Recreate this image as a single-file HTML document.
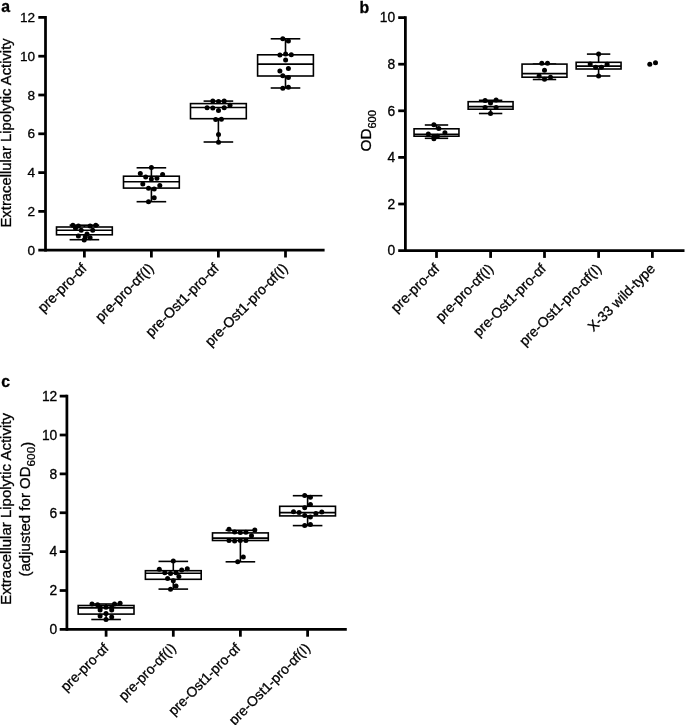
<!DOCTYPE html>
<html lang="en">
<head>
<meta charset="utf-8">
<title>Figure: extracellular lipolytic activity and OD600 box plots</title>
<style>
html,body{margin:0;padding:0;background:#fff;}
body{width:685px;height:725px;overflow:hidden;}
svg{display:block;}
svg text{font-family:"Liberation Sans", sans-serif;fill:#000;stroke:#000;stroke-width:0.3px;}
</style>
</head>
<body>
<svg width="685" height="725" viewBox="0 0 685 725">
<rect x="0" y="0" width="685" height="725" fill="#fff"/>
<g id="panel-a">
<line x1="45.5" y1="16.02" x2="45.5" y2="251.57" stroke="#000" stroke-width="2.75"/>
<line x1="38.30" y1="250.2" x2="324.6" y2="250.2" stroke="#000" stroke-width="2.75"/>
<text x="35.00" y="254.70" font-size="13.6" text-anchor="end">0</text>
<line x1="38.30" y1="211.40" x2="45.5" y2="211.40" stroke="#000" stroke-width="2.75"/>
<text x="35.00" y="215.90" font-size="13.6" text-anchor="end">2</text>
<line x1="38.30" y1="172.60" x2="45.5" y2="172.60" stroke="#000" stroke-width="2.75"/>
<text x="35.00" y="177.10" font-size="13.6" text-anchor="end">4</text>
<line x1="38.30" y1="133.80" x2="45.5" y2="133.80" stroke="#000" stroke-width="2.75"/>
<text x="35.00" y="138.30" font-size="13.6" text-anchor="end">6</text>
<line x1="38.30" y1="95.00" x2="45.5" y2="95.00" stroke="#000" stroke-width="2.75"/>
<text x="35.00" y="99.50" font-size="13.6" text-anchor="end">8</text>
<line x1="38.30" y1="56.20" x2="45.5" y2="56.20" stroke="#000" stroke-width="2.75"/>
<text x="35.00" y="60.70" font-size="13.6" text-anchor="end">10</text>
<line x1="38.30" y1="17.40" x2="45.5" y2="17.40" stroke="#000" stroke-width="2.75"/>
<text x="35.00" y="21.90" font-size="13.6" text-anchor="end">12</text>
<line x1="84.4" y1="250.2" x2="84.4" y2="257.50" stroke="#000" stroke-width="2.75"/>
<text transform="translate(87.60,269.20) rotate(-45)" font-size="14.15" text-anchor="end">pre-pro-αf</text>
<line x1="151.4" y1="250.2" x2="151.4" y2="257.50" stroke="#000" stroke-width="2.75"/>
<text transform="translate(154.60,269.20) rotate(-45)" font-size="14.15" text-anchor="end">pre-pro-αf(I)</text>
<line x1="218.4" y1="250.2" x2="218.4" y2="257.50" stroke="#000" stroke-width="2.75"/>
<text transform="translate(219.80,269.20) rotate(-45)" font-size="14.15" text-anchor="end">pre-Ost1-pro-αf</text>
<line x1="285.5" y1="250.2" x2="285.5" y2="257.50" stroke="#000" stroke-width="2.75"/>
<text transform="translate(288.70,269.20) rotate(-45)" font-size="14.15" text-anchor="end">pre-Ost1-pro-αf(I)</text>
<g stroke="#000" stroke-width="1.6" fill="none">
<line x1="84.4" y1="225.2" x2="84.4" y2="227.0"/>
<line x1="84.4" y1="234.8" x2="84.4" y2="239.7"/>
<line x1="69.60" y1="225.2" x2="99.20" y2="225.2"/>
<line x1="69.60" y1="239.7" x2="99.20" y2="239.7"/>
<rect x="56.50" y="227.0" width="55.8" height="7.80" fill="#fff"/>
<line x1="56.50" y1="230.2" x2="112.30" y2="230.2"/>
</g>
<g stroke="#000" stroke-width="1.6" fill="none">
<line x1="151.4" y1="167.8" x2="151.4" y2="176.2"/>
<line x1="151.4" y1="188.1" x2="151.4" y2="201.7"/>
<line x1="136.60" y1="167.8" x2="166.20" y2="167.8"/>
<line x1="136.60" y1="201.7" x2="166.20" y2="201.7"/>
<rect x="123.50" y="176.2" width="55.8" height="11.90" fill="#fff"/>
<line x1="123.50" y1="181.8" x2="179.30" y2="181.8"/>
</g>
<g stroke="#000" stroke-width="1.6" fill="none">
<line x1="218.4" y1="101.1" x2="218.4" y2="103.6"/>
<line x1="218.4" y1="118.7" x2="218.4" y2="142.0"/>
<line x1="203.60" y1="101.1" x2="233.20" y2="101.1"/>
<line x1="203.60" y1="142.0" x2="233.20" y2="142.0"/>
<rect x="190.50" y="103.6" width="55.8" height="15.10" fill="#fff"/>
<line x1="190.50" y1="107.5" x2="246.30" y2="107.5"/>
</g>
<g stroke="#000" stroke-width="1.6" fill="none">
<line x1="285.5" y1="38.8" x2="285.5" y2="54.8"/>
<line x1="285.5" y1="76.0" x2="285.5" y2="88.0"/>
<line x1="270.70" y1="38.8" x2="300.30" y2="38.8"/>
<line x1="270.70" y1="88.0" x2="300.30" y2="88.0"/>
<rect x="257.60" y="54.8" width="55.8" height="21.20" fill="#fff"/>
<line x1="257.60" y1="64.1" x2="313.40" y2="64.1"/>
</g>
<circle cx="72.9" cy="225.2" r="2.5" fill="#000"/>
<circle cx="78.4" cy="225.9" r="2.5" fill="#000"/>
<circle cx="90.1" cy="225.9" r="2.5" fill="#000"/>
<circle cx="95.8" cy="225.2" r="2.5" fill="#000"/>
<circle cx="75.5" cy="228.3" r="2.5" fill="#000"/>
<circle cx="81.2" cy="230.3" r="2.5" fill="#000"/>
<circle cx="92.7" cy="230.3" r="2.5" fill="#000"/>
<circle cx="87" cy="233.9" r="2.5" fill="#000"/>
<circle cx="78.4" cy="235.9" r="2.5" fill="#000"/>
<circle cx="85.3" cy="237" r="2.5" fill="#000"/>
<circle cx="90.1" cy="237.7" r="2.5" fill="#000"/>
<circle cx="84.2" cy="240" r="2.5" fill="#000"/>
<circle cx="151.4" cy="167.4" r="2.5" fill="#000"/>
<circle cx="140.3" cy="173.6" r="2.5" fill="#000"/>
<circle cx="162.6" cy="174.6" r="2.5" fill="#000"/>
<circle cx="145.7" cy="176.9" r="2.5" fill="#000"/>
<circle cx="156.9" cy="178.2" r="2.5" fill="#000"/>
<circle cx="151.4" cy="179.1" r="2.5" fill="#000"/>
<circle cx="142.8" cy="184" r="2.5" fill="#000"/>
<circle cx="159.8" cy="185.5" r="2.5" fill="#000"/>
<circle cx="148.5" cy="188.3" r="2.5" fill="#000"/>
<circle cx="154.2" cy="189" r="2.5" fill="#000"/>
<circle cx="154.2" cy="197.8" r="2.5" fill="#000"/>
<circle cx="148.5" cy="201.7" r="2.5" fill="#000"/>
<circle cx="212.8" cy="101.1" r="2.5" fill="#000"/>
<circle cx="218.5" cy="101.6" r="2.5" fill="#000"/>
<circle cx="224.2" cy="101.1" r="2.5" fill="#000"/>
<circle cx="230" cy="105.2" r="2.5" fill="#000"/>
<circle cx="207.1" cy="107.8" r="2.5" fill="#000"/>
<circle cx="212.8" cy="108.1" r="2.5" fill="#000"/>
<circle cx="224.2" cy="107.8" r="2.5" fill="#000"/>
<circle cx="218.5" cy="110.5" r="2.5" fill="#000"/>
<circle cx="215.7" cy="119.5" r="2.5" fill="#000"/>
<circle cx="221.4" cy="119.3" r="2.5" fill="#000"/>
<circle cx="218.5" cy="134.6" r="2.5" fill="#000"/>
<circle cx="218.5" cy="142.2" r="2.5" fill="#000"/>
<circle cx="282.8" cy="38.7" r="2.5" fill="#000"/>
<circle cx="288.4" cy="41" r="2.5" fill="#000"/>
<circle cx="279.9" cy="55.1" r="2.5" fill="#000"/>
<circle cx="285.6" cy="54" r="2.5" fill="#000"/>
<circle cx="291.3" cy="54.8" r="2.5" fill="#000"/>
<circle cx="285.6" cy="60.1" r="2.5" fill="#000"/>
<circle cx="288.4" cy="68.4" r="2.5" fill="#000"/>
<circle cx="279.9" cy="71.1" r="2.5" fill="#000"/>
<circle cx="282.8" cy="75.7" r="2.5" fill="#000"/>
<circle cx="288.4" cy="77.4" r="2.5" fill="#000"/>
<circle cx="282.8" cy="88.2" r="2.5" fill="#000"/>
<circle cx="288.4" cy="87.2" r="2.5" fill="#000"/>
</g>
<g id="panel-b">
<line x1="405.4" y1="16.23" x2="405.4" y2="251.97" stroke="#000" stroke-width="2.75"/>
<line x1="398.20" y1="250.6" x2="684.5" y2="250.6" stroke="#000" stroke-width="2.75"/>
<text x="395.10" y="255.40" font-size="13.8" text-anchor="end">0</text>
<line x1="398.20" y1="204.00" x2="405.4" y2="204.00" stroke="#000" stroke-width="2.75"/>
<text x="395.10" y="208.80" font-size="13.8" text-anchor="end">2</text>
<line x1="398.20" y1="157.40" x2="405.4" y2="157.40" stroke="#000" stroke-width="2.75"/>
<text x="395.10" y="162.20" font-size="13.8" text-anchor="end">4</text>
<line x1="398.20" y1="110.80" x2="405.4" y2="110.80" stroke="#000" stroke-width="2.75"/>
<text x="395.10" y="115.60" font-size="13.8" text-anchor="end">6</text>
<line x1="398.20" y1="64.20" x2="405.4" y2="64.20" stroke="#000" stroke-width="2.75"/>
<text x="395.10" y="69.00" font-size="13.8" text-anchor="end">8</text>
<line x1="398.20" y1="17.60" x2="405.4" y2="17.60" stroke="#000" stroke-width="2.75"/>
<text x="395.10" y="22.40" font-size="13.8" text-anchor="end">10</text>
<line x1="436.5" y1="250.6" x2="436.5" y2="257.90" stroke="#000" stroke-width="2.75"/>
<text transform="translate(440.20,269.60) rotate(-45)" font-size="14.0" text-anchor="end">pre-pro-αf</text>
<line x1="490.6" y1="250.6" x2="490.6" y2="257.90" stroke="#000" stroke-width="2.75"/>
<text transform="translate(494.30,269.60) rotate(-45)" font-size="14.0" text-anchor="end">pre-pro-αf(I)</text>
<line x1="544.5" y1="250.6" x2="544.5" y2="257.90" stroke="#000" stroke-width="2.75"/>
<text transform="translate(546.70,269.60) rotate(-45)" font-size="14.0" text-anchor="end">pre-Ost1-pro-αf</text>
<line x1="598.6" y1="250.6" x2="598.6" y2="257.90" stroke="#000" stroke-width="2.75"/>
<text transform="translate(602.30,269.60) rotate(-45)" font-size="14.0" text-anchor="end">pre-Ost1-pro-αf(I)</text>
<line x1="652.4" y1="250.6" x2="652.4" y2="257.90" stroke="#000" stroke-width="2.75"/>
<text transform="translate(656.10,269.60) rotate(-45)" font-size="14.0" text-anchor="end">X-33 wild-type</text>
<g stroke="#000" stroke-width="1.6" fill="none">
<line x1="436.5" y1="125.0" x2="436.5" y2="128.8"/>
<line x1="436.5" y1="136.2" x2="436.5" y2="138.3"/>
<line x1="424.80" y1="125.0" x2="448.20" y2="125.0"/>
<line x1="424.80" y1="138.3" x2="448.20" y2="138.3"/>
<rect x="414.05" y="128.8" width="44.9" height="7.40" fill="#fff"/>
<line x1="414.05" y1="134.2" x2="458.95" y2="134.2"/>
</g>
<g stroke="#000" stroke-width="1.6" fill="none">
<line x1="490.6" y1="100.3" x2="490.6" y2="101.7"/>
<line x1="490.6" y1="109.2" x2="490.6" y2="113.5"/>
<line x1="478.90" y1="100.3" x2="502.30" y2="100.3"/>
<line x1="478.90" y1="113.5" x2="502.30" y2="113.5"/>
<rect x="468.15" y="101.7" width="44.9" height="7.50" fill="#fff"/>
<line x1="468.15" y1="106.6" x2="513.05" y2="106.6"/>
</g>
<g stroke="#000" stroke-width="1.6" fill="none">
<line x1="544.5" y1="64.1" x2="544.5" y2="64.1"/>
<line x1="544.5" y1="77.2" x2="544.5" y2="79.5"/>
<line x1="532.80" y1="64.1" x2="556.20" y2="64.1"/>
<line x1="532.80" y1="79.5" x2="556.20" y2="79.5"/>
<rect x="522.05" y="64.1" width="44.9" height="13.10" fill="#fff"/>
<line x1="522.05" y1="73.6" x2="566.95" y2="73.6"/>
</g>
<g stroke="#000" stroke-width="1.6" fill="none">
<line x1="598.6" y1="54.1" x2="598.6" y2="62.3"/>
<line x1="598.6" y1="69.0" x2="598.6" y2="76.0"/>
<line x1="586.90" y1="54.1" x2="610.30" y2="54.1"/>
<line x1="586.90" y1="76.0" x2="610.30" y2="76.0"/>
<rect x="576.15" y="62.3" width="44.9" height="6.70" fill="#fff"/>
<line x1="576.15" y1="66.1" x2="621.05" y2="66.1"/>
</g>
<circle cx="433.9" cy="124.8" r="2.5" fill="#000"/>
<circle cx="438.8" cy="128.6" r="2.5" fill="#000"/>
<circle cx="428.3" cy="133.9" r="2.5" fill="#000"/>
<circle cx="444.9" cy="132.7" r="2.5" fill="#000"/>
<circle cx="433.9" cy="136.7" r="2.5" fill="#000"/>
<circle cx="437.4" cy="136.2" r="2.5" fill="#000"/>
<circle cx="433.9" cy="138.8" r="2.5" fill="#000"/>
<circle cx="485.1" cy="100.6" r="2.5" fill="#000"/>
<circle cx="496.1" cy="99.9" r="2.5" fill="#000"/>
<circle cx="490.5" cy="102.9" r="2.5" fill="#000"/>
<circle cx="485.1" cy="107.6" r="2.5" fill="#000"/>
<circle cx="496.1" cy="107.6" r="2.5" fill="#000"/>
<circle cx="490.5" cy="113.4" r="2.5" fill="#000"/>
<circle cx="541.8" cy="63.3" r="2.5" fill="#000"/>
<circle cx="547.5" cy="63.3" r="2.5" fill="#000"/>
<circle cx="544.5" cy="70.3" r="2.5" fill="#000"/>
<circle cx="539.1" cy="76" r="2.5" fill="#000"/>
<circle cx="550.5" cy="77.2" r="2.5" fill="#000"/>
<circle cx="544.5" cy="79.2" r="2.5" fill="#000"/>
<circle cx="598.6" cy="54.1" r="2.5" fill="#000"/>
<circle cx="590.2" cy="64.1" r="2.5" fill="#000"/>
<circle cx="607.1" cy="64.3" r="2.5" fill="#000"/>
<circle cx="595.7" cy="67.3" r="2.5" fill="#000"/>
<circle cx="601.4" cy="67.3" r="2.5" fill="#000"/>
<circle cx="598.6" cy="76" r="2.5" fill="#000"/>
<circle cx="649.8" cy="64.3" r="2.5" fill="#000"/>
<circle cx="655.5" cy="62.8" r="2.5" fill="#000"/>
</g>
<g id="panel-c">
<line x1="66.9" y1="394.73" x2="66.9" y2="630.77" stroke="#000" stroke-width="2.75"/>
<line x1="59.70" y1="629.4" x2="346.8" y2="629.4" stroke="#000" stroke-width="2.75"/>
<text x="57.30" y="634.20" font-size="13.8" text-anchor="end">0</text>
<line x1="59.70" y1="590.52" x2="66.9" y2="590.52" stroke="#000" stroke-width="2.75"/>
<text x="57.30" y="595.32" font-size="13.8" text-anchor="end">2</text>
<line x1="59.70" y1="551.64" x2="66.9" y2="551.64" stroke="#000" stroke-width="2.75"/>
<text x="57.30" y="556.44" font-size="13.8" text-anchor="end">4</text>
<line x1="59.70" y1="512.76" x2="66.9" y2="512.76" stroke="#000" stroke-width="2.75"/>
<text x="57.30" y="517.56" font-size="13.8" text-anchor="end">6</text>
<line x1="59.70" y1="473.88" x2="66.9" y2="473.88" stroke="#000" stroke-width="2.75"/>
<text x="57.30" y="478.68" font-size="13.8" text-anchor="end">8</text>
<line x1="59.70" y1="435.00" x2="66.9" y2="435.00" stroke="#000" stroke-width="2.75"/>
<text x="57.30" y="439.80" font-size="13.8" text-anchor="end">10</text>
<line x1="59.70" y1="396.12" x2="66.9" y2="396.12" stroke="#000" stroke-width="2.75"/>
<text x="57.30" y="400.92" font-size="13.8" text-anchor="end">12</text>
<line x1="106.1" y1="629.4" x2="106.1" y2="636.70" stroke="#000" stroke-width="2.75"/>
<text transform="translate(109.60,649.00) rotate(-45)" font-size="13.9" text-anchor="end">pre-pro-αf</text>
<line x1="173.3" y1="629.4" x2="173.3" y2="636.70" stroke="#000" stroke-width="2.75"/>
<text transform="translate(176.80,649.00) rotate(-45)" font-size="13.9" text-anchor="end">pre-pro-αf(I)</text>
<line x1="240.4" y1="629.4" x2="240.4" y2="636.70" stroke="#000" stroke-width="2.75"/>
<text transform="translate(241.30,649.00) rotate(-45)" font-size="13.9" text-anchor="end">pre-Ost1-pro-αf</text>
<line x1="307.6" y1="629.4" x2="307.6" y2="636.70" stroke="#000" stroke-width="2.75"/>
<text transform="translate(311.10,649.00) rotate(-45)" font-size="13.9" text-anchor="end">pre-Ost1-pro-αf(I)</text>
<g stroke="#000" stroke-width="1.6" fill="none">
<line x1="106.1" y1="604.0" x2="106.1" y2="605.5"/>
<line x1="106.1" y1="614.1" x2="106.1" y2="619.5"/>
<line x1="91.30" y1="604.0" x2="120.90" y2="604.0"/>
<line x1="91.30" y1="619.5" x2="120.90" y2="619.5"/>
<rect x="78.20" y="605.5" width="55.8" height="8.60" fill="#fff"/>
<line x1="78.20" y1="607.9" x2="134.00" y2="607.9"/>
</g>
<g stroke="#000" stroke-width="1.6" fill="none">
<line x1="173.3" y1="561.4" x2="173.3" y2="570.7"/>
<line x1="173.3" y1="579.3" x2="173.3" y2="589.1"/>
<line x1="158.50" y1="561.4" x2="188.10" y2="561.4"/>
<line x1="158.50" y1="589.1" x2="188.10" y2="589.1"/>
<rect x="145.40" y="570.7" width="55.8" height="8.60" fill="#fff"/>
<line x1="145.40" y1="573.2" x2="201.20" y2="573.2"/>
</g>
<g stroke="#000" stroke-width="1.6" fill="none">
<line x1="240.4" y1="530.3" x2="240.4" y2="532.9"/>
<line x1="240.4" y1="540.5" x2="240.4" y2="561.8"/>
<line x1="225.60" y1="530.3" x2="255.20" y2="530.3"/>
<line x1="225.60" y1="561.8" x2="255.20" y2="561.8"/>
<rect x="212.50" y="532.9" width="55.8" height="7.60" fill="#fff"/>
<line x1="212.50" y1="538.1" x2="268.30" y2="538.1"/>
</g>
<g stroke="#000" stroke-width="1.6" fill="none">
<line x1="307.6" y1="495.7" x2="307.6" y2="506.3"/>
<line x1="307.6" y1="515.9" x2="307.6" y2="525.6"/>
<line x1="292.80" y1="495.7" x2="322.40" y2="495.7"/>
<line x1="292.80" y1="525.6" x2="322.40" y2="525.6"/>
<rect x="279.70" y="506.3" width="55.8" height="9.60" fill="#fff"/>
<line x1="279.70" y1="512.6" x2="335.50" y2="512.6"/>
</g>
<circle cx="92" cy="604" r="2.5" fill="#000"/>
<circle cx="97.6" cy="604.7" r="2.5" fill="#000"/>
<circle cx="114.5" cy="604" r="2.5" fill="#000"/>
<circle cx="120.1" cy="603.2" r="2.5" fill="#000"/>
<circle cx="100.1" cy="607.3" r="2.5" fill="#000"/>
<circle cx="106" cy="607.3" r="2.5" fill="#000"/>
<circle cx="111.7" cy="607.3" r="2.5" fill="#000"/>
<circle cx="100.1" cy="610.1" r="2.5" fill="#000"/>
<circle cx="111.7" cy="610.1" r="2.5" fill="#000"/>
<circle cx="106" cy="613.4" r="2.5" fill="#000"/>
<circle cx="100.1" cy="615.9" r="2.5" fill="#000"/>
<circle cx="111.7" cy="617" r="2.5" fill="#000"/>
<circle cx="106" cy="619.5" r="2.5" fill="#000"/>
<circle cx="173.3" cy="561" r="2.5" fill="#000"/>
<circle cx="159.3" cy="569.2" r="2.5" fill="#000"/>
<circle cx="187.3" cy="568.7" r="2.5" fill="#000"/>
<circle cx="181.7" cy="569.9" r="2.5" fill="#000"/>
<circle cx="164.8" cy="572.7" r="2.5" fill="#000"/>
<circle cx="170.5" cy="573.5" r="2.5" fill="#000"/>
<circle cx="176" cy="572.7" r="2.5" fill="#000"/>
<circle cx="178.9" cy="576.6" r="2.5" fill="#000"/>
<circle cx="167.6" cy="578.6" r="2.5" fill="#000"/>
<circle cx="173.3" cy="580.7" r="2.5" fill="#000"/>
<circle cx="176" cy="586" r="2.5" fill="#000"/>
<circle cx="170.5" cy="589.3" r="2.5" fill="#000"/>
<circle cx="229" cy="529.3" r="2.5" fill="#000"/>
<circle cx="254.8" cy="530.1" r="2.5" fill="#000"/>
<circle cx="234.6" cy="531.9" r="2.5" fill="#000"/>
<circle cx="240.3" cy="532.6" r="2.5" fill="#000"/>
<circle cx="245.9" cy="532.2" r="2.5" fill="#000"/>
<circle cx="251.5" cy="535.7" r="2.5" fill="#000"/>
<circle cx="229" cy="540.5" r="2.5" fill="#000"/>
<circle cx="234.6" cy="540.9" r="2.5" fill="#000"/>
<circle cx="240.3" cy="540.5" r="2.5" fill="#000"/>
<circle cx="245.9" cy="540.5" r="2.5" fill="#000"/>
<circle cx="243.3" cy="557.1" r="2.5" fill="#000"/>
<circle cx="237.7" cy="561.8" r="2.5" fill="#000"/>
<circle cx="304.7" cy="495.5" r="2.5" fill="#000"/>
<circle cx="310.4" cy="497.3" r="2.5" fill="#000"/>
<circle cx="310.4" cy="504.4" r="2.5" fill="#000"/>
<circle cx="304.7" cy="507.7" r="2.5" fill="#000"/>
<circle cx="293.5" cy="511.8" r="2.5" fill="#000"/>
<circle cx="299.1" cy="512.6" r="2.5" fill="#000"/>
<circle cx="315.9" cy="513.4" r="2.5" fill="#000"/>
<circle cx="321.8" cy="512.1" r="2.5" fill="#000"/>
<circle cx="304.7" cy="515.5" r="2.5" fill="#000"/>
<circle cx="310.4" cy="517" r="2.5" fill="#000"/>
<circle cx="304.7" cy="525.4" r="2.5" fill="#000"/>
<circle cx="310.4" cy="524.6" r="2.5" fill="#000"/>
</g>

<text x="1.2" y="12.4" font-size="15.8" font-weight="bold" stroke-width="0.15">a</text>
<text x="359.6" y="12.7" font-size="15.8" font-weight="bold" stroke-width="0.15">b</text>
<text x="1.2" y="387" font-size="15.8" font-weight="bold" stroke-width="0.15">c</text>
<text transform="translate(10.9,227.5) rotate(-90)" font-size="14.8">Extracellular Lipolytic Activity</text>
<text transform="translate(370.8,151.5) rotate(-90)" font-size="15.3">OD<tspan font-size="11.1" dy="5.6">600</tspan></text>
<text transform="translate(11.0,604.8) rotate(-90)" font-size="15">Extracellular Lipolytic Activity</text>
<text transform="translate(29.5,576.5) rotate(-90)" font-size="15">(adjusted for OD<tspan font-size="11.8" dy="5.5">600</tspan><tspan dy="-3.0">)</tspan></text>

</svg>
</body>
</html>
